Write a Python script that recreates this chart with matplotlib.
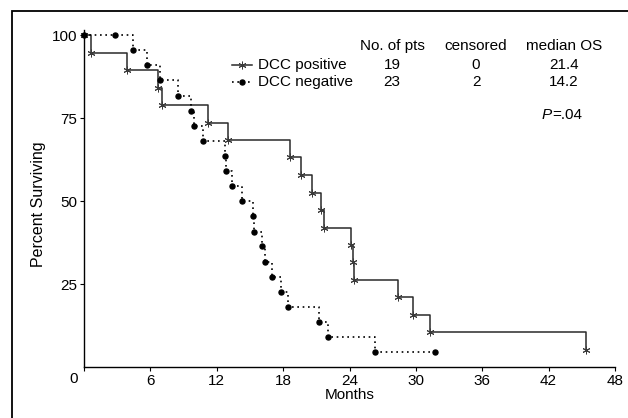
import matplotlib
matplotlib.use("Agg")
import matplotlib.pyplot as plt
from matplotlib.patches import Rectangle

plt.rcParams['font.family'] = ['Liberation Sans', 'DejaVu Sans']

# DCC positive: event times (months) and survival after each event (%)
pos_t = [0, 0.6, 3.9, 6.7, 7.05, 11.2, 13.0, 18.6, 19.6, 20.6, 21.45, 21.7,
         24.1, 24.3, 24.45, 28.4, 29.7, 31.3, 45.4]
pos_s = [100, 94.7, 89.5, 84.2, 78.9, 73.7, 68.4, 63.2, 57.9, 52.6, 47.4, 42.1,
         36.8, 31.6, 26.3, 21.1, 15.8, 10.5, 5.3]

# DCC negative
neg_t = [0, 2.8, 4.4, 5.7, 6.9, 8.5, 9.7, 9.9, 10.8, 12.75, 12.8, 13.4, 14.3,
         15.28, 15.34, 16.05, 16.35, 17.0, 17.8, 18.4, 21.2, 22.1, 26.3, 31.7]
neg_s = [100, 100, 95.5, 90.9, 86.4, 81.8, 77.3, 72.7, 68.2, 63.6, 59.1, 54.5,
         50.0, 45.5, 40.9, 36.4, 31.8, 27.3, 22.7, 18.2, 13.6, 9.1, 4.5, 4.5]

xticks = [0, 6, 12, 18, 24, 30, 36, 42, 48]
yticks = [25, 50, 75, 100]

table_header = ["No. of pts", "censored", "median OS"]
table_rows = [["19", "0", "21.4"], ["23", "2", "14.2"]]

FS = 11

fig = plt.figure(figsize=(6.28, 4.18), dpi=100)
ax = fig.add_axes([84/628, 1 - 367.3/418, 531/628, 337/418])

# outer frame (only left and top edges visible)
fig.patches.append(Rectangle((12/628, -0.5), 2, 0.5 + 1 - 11/418,
                             transform=fig.transFigure, fill=False,
                             lw=1.3, ec='black'))

ast = (6, 2, 0)
dots = (0, (1, 2.2))
ax.step(pos_t, pos_s, where='post', color='#2a2a2a', lw=1.1, clip_on=False)
ax.plot(pos_t, pos_s, ls='none', marker=ast, ms=5.5, mew=0.7, mec='#3a3a3a',
        clip_on=False)
ax.step(neg_t, neg_s, where='post', color='black', lw=1.2, ls=dots,
        clip_on=False)
ax.plot(neg_t, neg_s, ls='none', marker='o', ms=3.6, color='black',
        clip_on=False)

ax.set_xlim(0, 48)
ax.set_ylim(0, 101.5)
ax.set_xticks(xticks)
ax.set_xticklabels([''] + [str(v) for v in xticks[1:]])
ax.text(-0.9, -1.5, str(xticks[0]), ha='center', va='top', fontsize=FS)
ax.set_yticks(yticks)
ax.set_yticklabels([str(v) for v in yticks])
ax.tick_params(length=3, width=0.8, labelsize=FS, pad=2)
ax.spines['top'].set_visible(False)
ax.spines['right'].set_visible(False)
for s in ['left', 'bottom']:
    ax.spines[s].set_linewidth(1.0)

ax.set_xlabel('Months', fontsize=FS, labelpad=0)
ax.set_ylabel('Percent Surviving', fontsize=11.5, labelpad=4)
ax.yaxis.label.set_y(0.485)

# legend-like table
def fx(px):
    return px / 628
def fy(py):
    return 1 - py / 418

fig.add_artist(plt.Line2D([fx(232), fx(252)], [fy(65), fy(65)],
                          color='#2a2a2a', lw=1.1))
fig.add_artist(plt.Line2D([fx(242)], [fy(65)], marker=ast, ms=5.5, mew=0.7,
                          color='#3a3a3a'))
fig.add_artist(plt.Line2D([fx(232), fx(252)], [fy(82), fy(82)], color='black',
                          lw=1.2, ls=dots))
fig.add_artist(plt.Line2D([fx(242)], [fy(82)], marker='o', ms=3.6,
                          color='black'))
fig.text(fx(258), fy(65), "DCC positive", va='center', fontsize=FS)
fig.text(fx(258), fy(82), "DCC negative", va='center', fontsize=FS)

col_x = [392, 476, 564]
for cx, h in zip(col_x, table_header):
    fig.text(fx(cx), fy(46), h, ha='center', va='center', fontsize=FS)
for ry, row in zip([65, 82], table_rows):
    for cx, v in zip(col_x, row):
        fig.text(fx(cx), fy(ry), v, ha='center', va='center', fontsize=FS)
fig.text(fx(552), fy(115), "P", ha='right', va='center', fontsize=FS,
         style='italic')
fig.text(fx(552), fy(115), "=.04", ha='left', va='center', fontsize=FS)

fig.savefig("out.png", dpi=100)
